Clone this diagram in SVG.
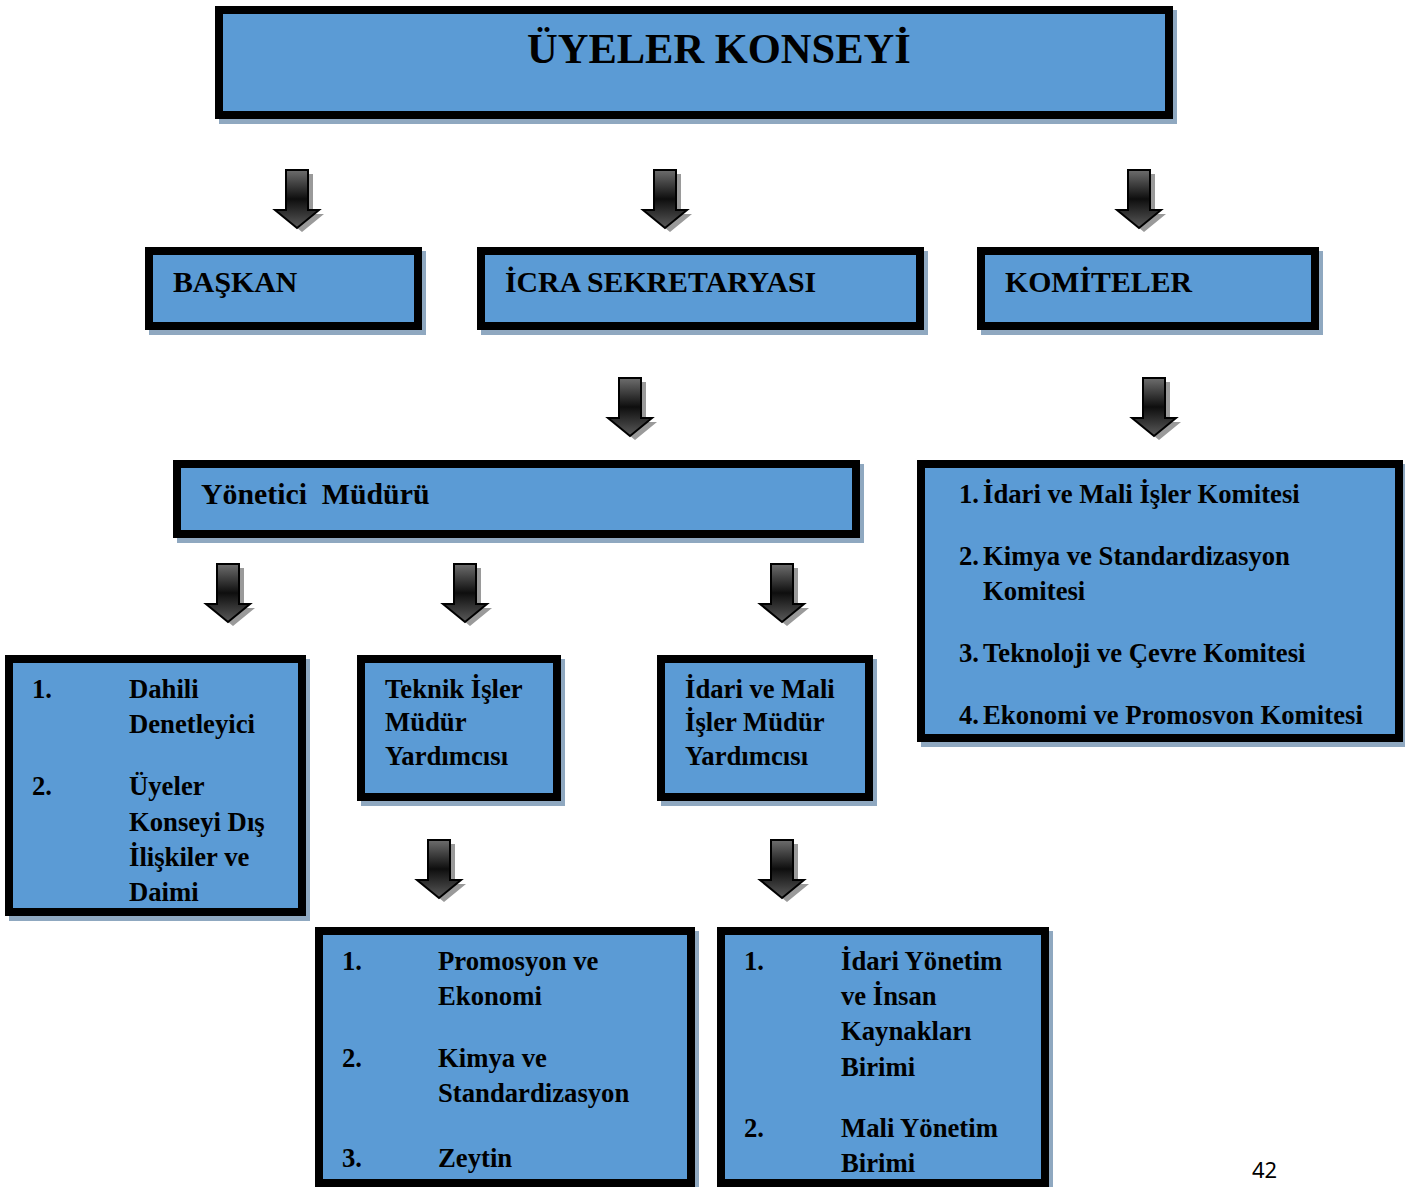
<svg xmlns="http://www.w3.org/2000/svg" xmlns:xlink="http://www.w3.org/1999/xlink" width="1405" height="1187" viewBox="0 0 1405 1187">
<style>
.box{fill:#5B9BD5;stroke:#000;stroke-width:8}
.sh{fill:#8FA8C0}
.t{font-family:"Liberation Serif","Times New Roman",serif;font-weight:bold;fill:#000;white-space:pre}
.big{font-size:42.5px}
.h{font-size:29.8px}
.l{font-size:26.7px}
</style>
<defs>
<linearGradient id="ag" x1="0" y1="0" x2="0" y2="1">
<stop offset="0" stop-color="#6e6e6e"/>
<stop offset="0.5" stop-color="#0e0e0e"/>
<stop offset="1" stop-color="#5a5a5a"/>
</linearGradient>
<g id="arrow">
<path d="M-6,4 H16 V44 H27 L5,62 L-17,44 H-6 Z" fill="#9a9a9a"/>
<path d="M-11,0 H11 V40 H22 L0,58 L-22,40 H-11 Z" fill="url(#ag)" stroke="#000" stroke-width="2"/>
</g>
</defs>
<rect width="1405" height="1187" fill="#fff"/>

<g id="connectors">
<use xlink:href="#arrow" x="297" y="170"/>
<use xlink:href="#arrow" x="665" y="170"/>
<use xlink:href="#arrow" x="1139" y="170"/>
<use xlink:href="#arrow" x="630" y="378"/>
<use xlink:href="#arrow" x="1154" y="378"/>
<use xlink:href="#arrow" x="228" y="564"/>
<use xlink:href="#arrow" x="465" y="564"/>
<use xlink:href="#arrow" x="782" y="564"/>
<use xlink:href="#arrow" x="439" y="840"/>
<use xlink:href="#arrow" x="782" y="840"/>
</g>

<g id="uyeler-konseyi">
<rect class="sh" x="219" y="10" width="958" height="114"/>
<rect class="box" x="219" y="10" width="950" height="105"/>
<text class="t big" x="527" y="63">ÜYELER KONSEYİ</text>
</g>

<g id="baskan">
<rect class="sh" x="149" y="251" width="277" height="84"/>
<rect class="box" x="149" y="251" width="269" height="75"/>
<text class="t h" x="173" y="292">BAŞKAN</text>
</g>

<g id="icra">
<rect class="sh" x="481" y="251" width="447" height="84"/>
<rect class="box" x="481" y="251" width="439" height="75"/>
<text class="t h" x="505" y="292">İCRA SEKRETARYASI</text>
</g>

<g id="komiteler">
<rect class="sh" x="981" y="251" width="342" height="84"/>
<rect class="box" x="981" y="251" width="334" height="75"/>
<text class="t h" x="1005" y="292">KOMİTELER</text>
</g>

<g id="yonetici">
<rect class="sh" x="177" y="464" width="687" height="79"/>
<rect class="box" x="177" y="464" width="679" height="70"/>
<text class="t h" x="201" y="504">Yönetici  Müdürü</text>
</g>

<g id="komite-listesi">
<rect class="sh" x="921" y="464" width="486" height="283"/>
<rect class="box" x="921" y="464" width="478" height="274"/>
<text class="t l" x="959" y="503">1.</text><text class="t l" x="983" y="503">İdari ve Mali İşler Komitesi</text>
<text class="t l" x="959" y="565">2.</text><text class="t l" x="983" y="565">Kimya ve Standardizasyon</text>
<text class="t l" x="983" y="600">Komitesi</text>
<text class="t l" x="959" y="662">3.</text><text class="t l" x="983" y="662">Teknoloji ve Çevre Komitesi</text>
<text class="t l" x="959" y="724">4.</text><text class="t l" x="983" y="724">Ekonomi ve Promosvon Komitesi</text>
</g>

<g id="dahili">
<rect class="sh" x="9" y="659" width="301" height="262"/>
<rect class="box" x="9" y="659" width="293" height="253"/>
<text class="t l" x="32" y="698">1.</text><text class="t l" x="129" y="698">Dahili</text>
<text class="t l" x="129" y="733">Denetleyici</text>
<text class="t l" x="32" y="795">2.</text><text class="t l" x="129" y="795">Üyeler</text>
<text class="t l" x="129" y="831">Konseyi Dış</text>
<text class="t l" x="129" y="866">İlişkiler ve</text>
<text class="t l" x="129" y="901">Daimi</text>
</g>

<g id="teknik">
<rect class="sh" x="361" y="659" width="204" height="147"/>
<rect class="box" x="361" y="659" width="196" height="138"/>
<text class="t l" x="385" y="698">Teknik İşler</text>
<text class="t l" x="385" y="731">Müdür</text>
<text class="t l" x="385" y="765">Yardımcısı</text>
</g>

<g id="idari-mali">
<rect class="sh" x="661" y="659" width="216" height="147"/>
<rect class="box" x="661" y="659" width="208" height="138"/>
<text class="t l" x="685" y="698">İdari ve Mali</text>
<text class="t l" x="685" y="731">İşler Müdür</text>
<text class="t l" x="685" y="765">Yardımcısı</text>
</g>

<g id="teknik-birimler">
<rect class="sh" x="319" y="931" width="380" height="262"/>
<rect class="box" x="319" y="931" width="372" height="252"/>
<text class="t l" x="342" y="970">1.</text><text class="t l" x="438" y="970">Promosyon ve</text>
<text class="t l" x="438" y="1005">Ekonomi</text>
<text class="t l" x="342" y="1067">2.</text><text class="t l" x="438" y="1067">Kimya ve</text>
<text class="t l" x="438" y="1102">Standardizasyon</text>
<text class="t l" x="342" y="1167">3.</text><text class="t l" x="438" y="1167">Zeytin</text>
</g>

<g id="idari-birimler">
<rect class="sh" x="721" y="931" width="332" height="262"/>
<rect class="box" x="721" y="931" width="324" height="252"/>
<text class="t l" x="744" y="970">1.</text><text class="t l" x="841" y="970">İdari Yönetim</text>
<text class="t l" x="841" y="1005">ve İnsan</text>
<text class="t l" x="841" y="1040">Kaynakları</text>
<text class="t l" x="841" y="1076">Birimi</text>
<text class="t l" x="744" y="1137">2.</text><text class="t l" x="841" y="1137">Mali Yönetim</text>
<text class="t l" x="841" y="1172">Birimi</text>
</g>

<text x="1252" y="1178" font-family="'Noto Sans','Liberation Sans',sans-serif" font-size="22" fill="#000">42</text>
</svg>
